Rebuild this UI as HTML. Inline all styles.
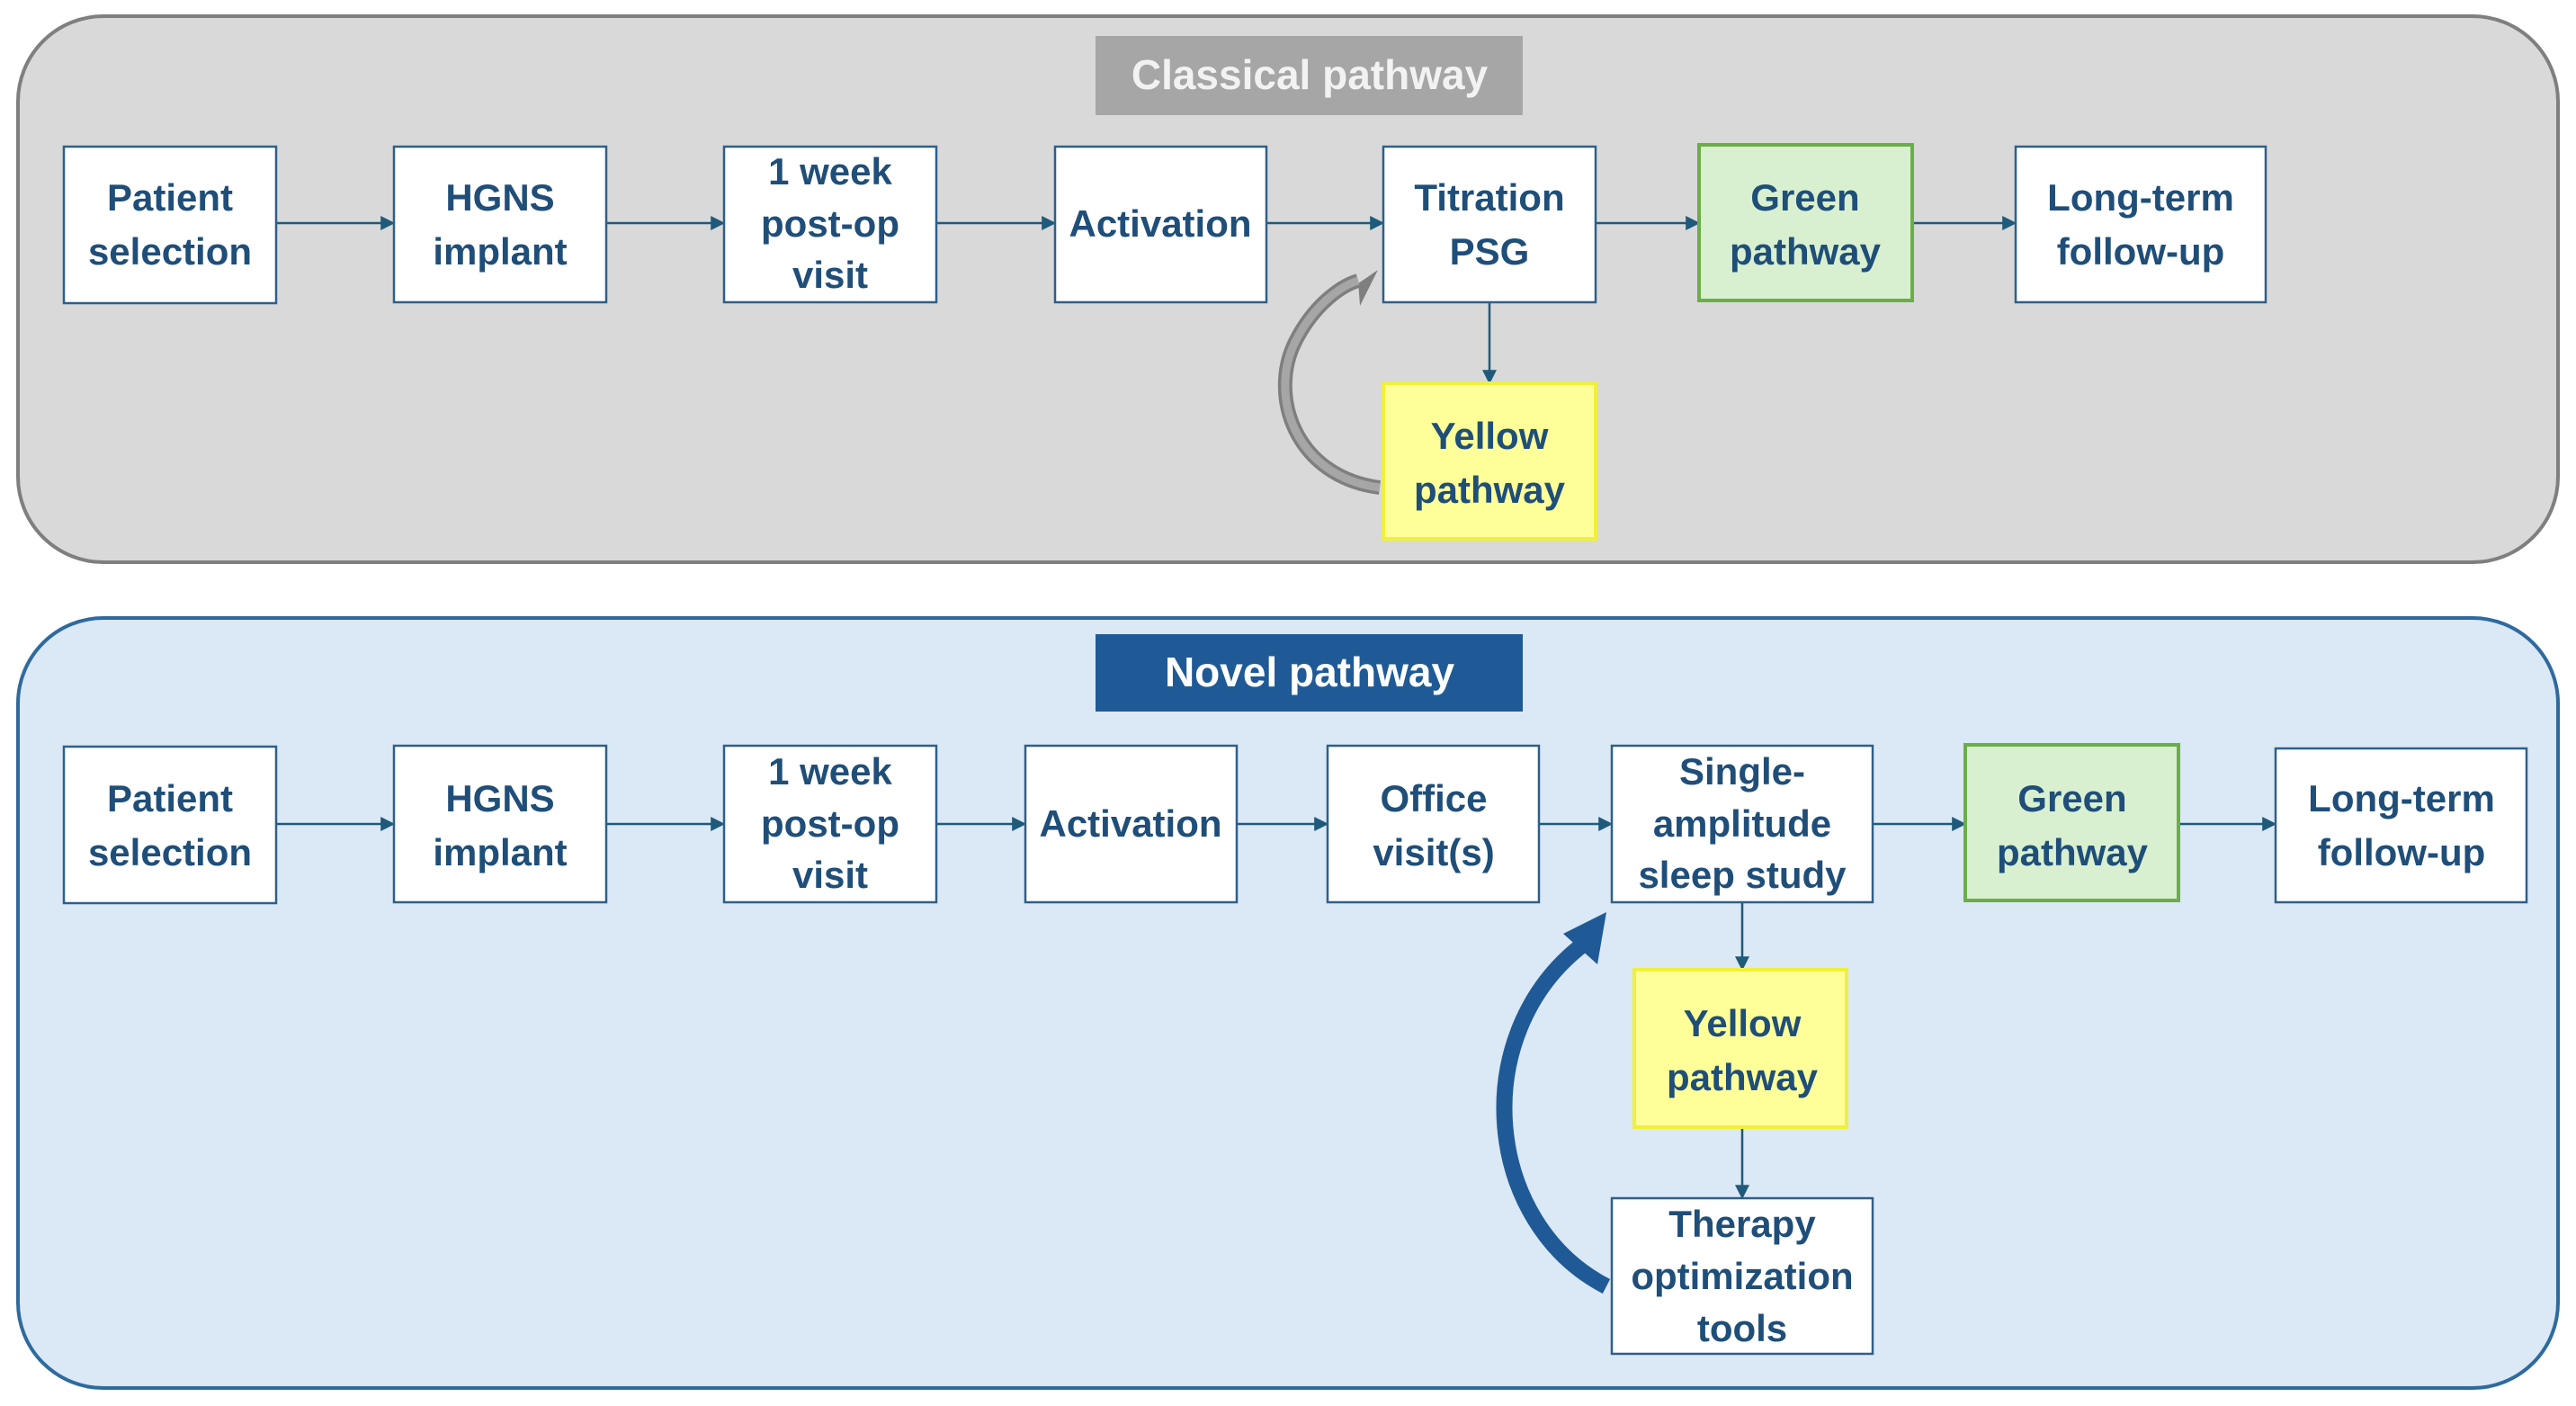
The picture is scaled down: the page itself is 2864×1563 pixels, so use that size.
<!DOCTYPE html>
<html><head><meta charset="utf-8"><style>
html,body{margin:0;padding:0;background:#fff;}
svg{display:block;}
text{font-family:"Liberation Sans Narrow","Liberation Sans",sans-serif;font-weight:bold;font-size:42px;fill:#1f4e79;text-anchor:middle;}
</style></head><body>
<svg width="2864" height="1563" viewBox="0 0 2864 1563" xmlns="http://www.w3.org/2000/svg">
<defs>
<marker id="ar" markerWidth="10" markerHeight="10" refX="9" refY="5" orient="auto" markerUnits="userSpaceOnUse"><path d="M0,0 L16,5 L0,10z" fill="#1f5a7a"/></marker>
<marker id="a2" viewBox="0 0 10 10" markerWidth="16" markerHeight="16" refX="8" refY="5" orient="auto" markerUnits="userSpaceOnUse"><path d="M0,0 L10,5 L0,10z" fill="#1f5a7a"/></marker>
</defs>
<!-- panels -->
<rect x="20" y="18" width="2824" height="607" rx="95" fill="#d9d9d9" stroke="#7f7f7f" stroke-width="4"/>
<rect x="20" y="687" width="2824" height="856" rx="95" fill="#dbe8f5" stroke="#2e6a9e" stroke-width="4"/>
<rect x="1218" y="40" width="475" height="88" fill="#a6a6a6"/>
<text x="1456" y="99" style="fill:#f2f2f2;font-size:46px">Classical pathway</text>
<rect x="1218" y="705" width="475" height="86" fill="#1f5a96"/>
<text x="1456" y="763" style="fill:#fff;font-size:46px">Novel pathway</text>

<g stroke="#1f5a7a" stroke-width="2.5" fill="none">
<!-- top row -->
<line x1="307" y1="248" x2="436" y2="248" marker-end="url(#a2)"/>
<line x1="674" y1="248" x2="803" y2="248" marker-end="url(#a2)"/>
<line x1="1041" y1="248" x2="1171" y2="248" marker-end="url(#a2)"/>
<line x1="1408" y1="248" x2="1536" y2="248" marker-end="url(#a2)"/>
<line x1="1774" y1="248" x2="1887" y2="248" marker-end="url(#a2)"/>
<line x1="2126" y1="248" x2="2239" y2="248" marker-end="url(#a2)"/>
<line x1="1656" y1="336" x2="1656" y2="424" marker-end="url(#a2)"/>
<!-- bottom row -->
<line x1="307" y1="916" x2="436" y2="916" marker-end="url(#a2)"/>
<line x1="674" y1="916" x2="803" y2="916" marker-end="url(#a2)"/>
<line x1="1041" y1="916" x2="1138" y2="916" marker-end="url(#a2)"/>
<line x1="1375" y1="916" x2="1474" y2="916" marker-end="url(#a2)"/>
<line x1="1711" y1="916" x2="1790" y2="916" marker-end="url(#a2)"/>
<line x1="2082" y1="916" x2="2183" y2="916" marker-end="url(#a2)"/>
<line x1="2422" y1="916" x2="2528" y2="916" marker-end="url(#a2)"/>
<line x1="1937" y1="1003" x2="1937" y2="1076" marker-end="url(#a2)"/>
<line x1="1937" y1="1253" x2="1937" y2="1330" marker-end="url(#a2)"/>
</g>

<!-- boxes -->
<g stroke="#2e5f8a" stroke-width="2.5" fill="#fff">
<rect x="71" y="163" width="236" height="174"/>
<rect x="438" y="163" width="236" height="173"/>
<rect x="805" y="163" width="236" height="173"/>
<rect x="1173" y="163" width="235" height="173"/>
<rect x="1538" y="163" width="236" height="173"/>
<rect x="2241" y="163" width="278" height="173"/>
<rect x="71" y="830" width="236" height="174"/>
<rect x="438" y="829" width="236" height="174"/>
<rect x="805" y="829" width="236" height="174"/>
<rect x="1140" y="829" width="235" height="174"/>
<rect x="1476" y="829" width="235" height="174"/>
<rect x="1792" y="829" width="290" height="174"/>
<rect x="2530" y="832" width="279" height="171"/>
<rect x="1792" y="1332" width="290" height="173"/>
</g>
<rect x="1889" y="161" width="237" height="173" fill="#d9f0d0" stroke="#6aae4a" stroke-width="4"/>
<rect x="2185" y="828" width="237" height="173" fill="#d9f0d0" stroke="#6aae4a" stroke-width="4"/>
<rect x="1538" y="426" width="236" height="173" fill="#ffff99" stroke="#f0f03a" stroke-width="4"/>
<rect x="1817" y="1078" width="236" height="175" fill="#ffff99" stroke="#f0f03a" stroke-width="4"/>

<!-- curved arrows -->
<path d="M1534,542 C1440,530 1410,440 1440,380 C1460,340 1490,318 1510,312" fill="none" stroke="#7f7f7f" stroke-width="16"/>
<path d="M1510,312 C1498,318 1502,320 1500,322 L1532,300 L1512,340z" fill="#7f7f7f"/>
<path d="M1534,542 C1440,530 1410,440 1440,380 C1460,340 1490,318 1510,312" fill="none" stroke="#a6a6a6" stroke-width="9"/>
<path d="M1786,1430 C1650,1360 1630,1150 1760,1050" fill="none" stroke="#1f5a96" stroke-width="18"/>
<path d="M1786,1014 L1738,1038 L1776,1072z" fill="#1f5a96"/>

<!-- labels -->
<text x="189" y="234">Patient</text><text x="189" y="294">selection</text>
<text x="556" y="234">HGNS</text><text x="556" y="294">implant</text>
<text x="923" y="205">1 week</text><text x="923" y="263">post-op</text><text x="923" y="320">visit</text>
<text x="1290" y="263">Activation</text>
<text x="1656" y="234">Titration</text><text x="1656" y="294">PSG</text>
<text x="2007" y="234">Green</text><text x="2007" y="294">pathway</text>
<text x="2380" y="234">Long-term</text><text x="2380" y="294">follow-up</text>
<text x="1656" y="499">Yellow</text><text x="1656" y="559">pathway</text>

<text x="189" y="902">Patient</text><text x="189" y="962">selection</text>
<text x="556" y="902">HGNS</text><text x="556" y="962">implant</text>
<text x="923" y="872">1 week</text><text x="923" y="930">post-op</text><text x="923" y="987">visit</text>
<text x="1257" y="930">Activation</text>
<text x="1594" y="902">Office</text><text x="1594" y="962">visit(s)</text>
<text x="1937" y="872">Single-</text><text x="1937" y="930">amplitude</text><text x="1937" y="987">sleep study</text>
<text x="2304" y="902">Green</text><text x="2304" y="962">pathway</text>
<text x="2670" y="902">Long-term</text><text x="2670" y="962">follow-up</text>
<text x="1937" y="1152">Yellow</text><text x="1937" y="1212">pathway</text>
<text x="1937" y="1375">Therapy</text><text x="1937" y="1433">optimization</text><text x="1937" y="1491">tools</text>
</svg>
</body></html>
